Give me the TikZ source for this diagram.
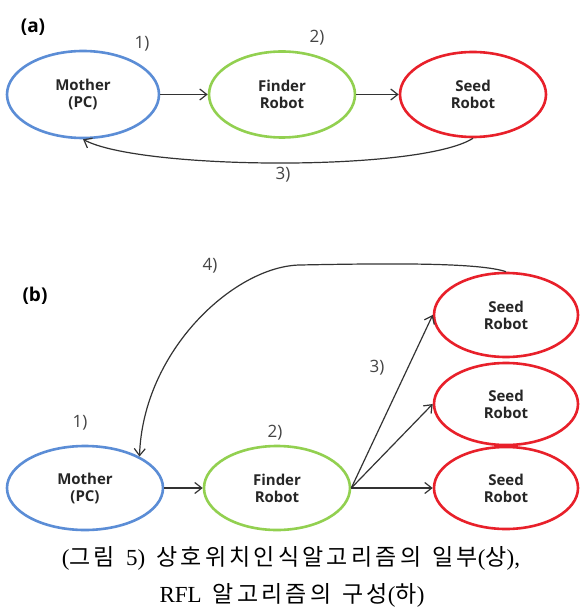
\documentclass[tikz,border=0pt]{standalone}
\usepackage{fontspec}
\usetikzlibrary{arrows.meta,shapes.geometric}
\newfontfamily\nodefont{Open Sans}
\newfontfamily\lblfont{Open Sans}
\newfontfamily\cjk[LetterSpace=14]{Noto Sans CJK KR}
\newfontfamily\capserif{Liberation Serif}
\newcommand{\Kr}[1]{{\cjk #1}}
\newcommand{\Sp}{\hspace{11pt}}
\definecolor{cblue}{HTML}{5B8DD6}
\definecolor{cgreen}{HTML}{92D050}
\definecolor{cred}{HTML}{E8202A}
\definecolor{cline}{HTML}{333333}
\definecolor{clbl}{HTML}{444444}
\begin{document}
\begin{tikzpicture}[x=1pt,y=-1pt,
  agent/.style={ellipse,line width=2.6pt,inner sep=0pt,
     font=\nodefont\bfseries\fontsize{15}{17}\selectfont,text=black!85,align=center,fill=white},
  bluebox/.style={agent,draw=cblue},
  greenbox/.style={agent,draw=cgreen},
  redbox/.style={agent,draw=cred},
  sz/.style 2 args={minimum width=#1,minimum height=#2},
  conn/.style={draw=cline,line width=1.2pt,-{Straight Barb[length=7pt,width=11pt]}},
  numlbl/.style={font=\lblfont\fontsize{17}{19}\selectfont,text=clbl,inner sep=0pt},
  partlbl/.style={font=\lblfont\bfseries\fontsize{19}{21}\selectfont,inner sep=0pt},
  caption/.style={font=\capserif\fontsize{23}{25}\selectfont,inner sep=0pt}]
\useasboundingbox (0,0) rectangle (579,609);
\fill[white] (0,0) rectangle (579,609);
% (a)
\node[partlbl] (pa) at (33,27) {(a)};
\node[bluebox,sz={152pt}{87pt}] (am) at (83,94.5) {Mother\\(PC)};
\node[greenbox,sz={146pt}{86pt}] (af) at (282,94.5) {Finder\\Robot};
\node[redbox,sz={146pt}{85pt}] (as) at (473,94.5) {Seed\\Robot};
\node[numlbl] (a1) at (142,44) {1)};
\node[numlbl] (a2) at (317,38) {2)};
\node[numlbl] (a3) at (283,175) {3)};
\draw[conn] (am.east) -- (af.west);
\draw[conn] (af.east) -- (as.west);
\draw[conn] (as.south) .. controls (420,172) and (140,170) .. (am.south);
% (b)
\node[partlbl] (pb) at (35,296) {(b)};
\node[bluebox,sz={156pt}{84pt}] (bm) at (85,488) {Mother\\(PC)};
\node[greenbox,sz={146pt}{84pt}] (bf) at (277,488) {Finder\\Robot};
\node[redbox,sz={144pt}{84pt}] (bs1) at (506,315) {Seed\\Robot};
\node[redbox,sz={144pt}{82pt}] (bs2) at (506,404) {Seed\\Robot};
\node[redbox,sz={144pt}{82pt}] (bs3) at (506,488) {Seed\\Robot};
\node[numlbl] (b4) at (210,266) {4)};
\node[numlbl] (b3) at (377,368) {3)};
\node[numlbl] (b1) at (80,423) {1)};
\node[numlbl] (b2) at (275,433) {2)};
\coordinate (bend) at (300,265);
\draw[conn] (bm.east) -- (bf.west);
\draw[conn] (bf.east) -- (bs3.west);
\draw[conn] (bf.east) -- (bs2.west);
\draw[conn] (bf.east) -- (bs1.west);
\draw[conn] (bs1.north) .. controls (480,263) and (400,263) .. (bend)
   .. controls (235,266) and (143,350) .. (bm.30);
% caption
\node[caption] (c1) at (291,558) {(\Kr{그림}\Sp5)\Sp\Kr{상호위치인식알고리즘의}\Sp\Kr{일부}(\Kr{상}),};
\node[caption] (c2) at (292,595) {RFL\Sp\Kr{알고리즘의}\Sp\Kr{구성}(\Kr{하})};
\end{tikzpicture}
\end{document}
